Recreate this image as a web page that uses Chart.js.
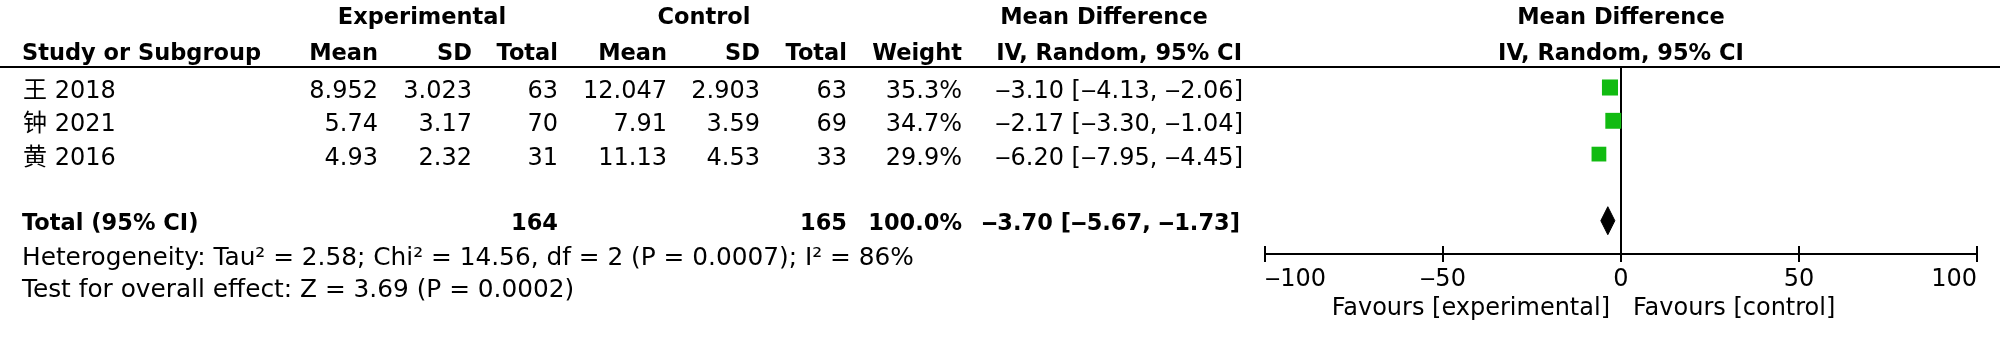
<!DOCTYPE html>
<html><head><meta charset="utf-8">
<script src="https://cdn.jsdelivr.net/npm/chart.js@4.4.0/dist/chart.umd.min.js"></script>
<style>html,body{margin:0;padding:0;background:#fff;}#wrap{width:2000px;height:339px;}</style>
</head><body><div id="wrap"><canvas id="c" width="2000" height="339"></canvas></div>
<script>
// ---- data ----
const studies = ['王 2018', '钟 2021', '黄 2016'];
const expMean = [8.952, 5.74, 4.93];
const expSD = [3.023, 3.17, 2.32];
const expN = [63, 70, 31];
const ctlMean = [12.047, 7.91, 11.13];
const ctlSD = [2.903, 3.59, 4.53];
const ctlN = [63, 69, 33];
const weights = [35.3, 34.7, 29.9];
const md = [-3.10, -2.17, -6.20];
const ciLo = [-4.13, -3.30, -7.95];
const ciHi = [-2.06, -1.04, -4.45];
const totalLabel = 'Total (95% CI)';
const totalExpN = 164;
const totalCtlN = 165;
const totalWeight = 100.0;
const totalMd = -3.70;
const totalLo = -5.67;
const totalHi = -1.73;
const hetTau2 = '2.58';
const hetChi2 = '14.56';
const hetDf = 2;
const hetP = '0.0007';
const hetI2 = 86;
const testZ = '3.69';
const testP = '0.0002';
const xTicks = [-100, -50, 0, 50, 100];
const favourLeft = 'Favours [experimental]';
const favourRight = 'Favours [control]';

// ---- layout / style ----
const FONT = "'DejaVu Sans','Noto Sans CJK SC',sans-serif";
const REG = '24px ' + FONT;
const FOOT = '24.8px ' + FONT;
const BOLD = 'bold 22.5px ' + FONT;
const GREEN = '#11bb11';
const dash = s => s.replace(/-/g, '\u2012');
const fmt2 = v => dash(v.toFixed(2));
const ciText = (m, l, h) => `${fmt2(m)} [${fmt2(l)}, ${fmt2(h)}]`;
const totalRow = 5;
const diamondHalf = 0.42;

const ciDatasets = studies.map((s, i) => ({
  type: 'line', label: 'ci' + i, order: 2,
  data: [{x: ciLo[i], y: i + 1}, {x: ciHi[i], y: i + 1}],
  borderColor: '#000', borderWidth: 1.5, pointRadius: 0, fill: false
}));

const tablePlugin = {
  id: 'table',
  afterDraw(chart) {
    const ctx = chart.ctx;
    const xs = chart.scales.x, ys = chart.scales.y;
    const zero = xs.getPixelForValue(0);
    const axisY = xs.top;
    ctx.save();
    // tick marks on axis
    ctx.strokeStyle = '#000'; ctx.lineWidth = 2;
    xs.ticks.forEach(t => {
      const px = Math.round(xs.getPixelForValue(t.value));
      ctx.beginPath(); ctx.moveTo(px, axisY - 8); ctx.lineTo(px, axisY + 8); ctx.stroke();
    });
    // header rule
    ctx.beginPath(); ctx.moveTo(0, 67); ctx.lineTo(2000, 67); ctx.stroke();

    ctx.fillStyle = '#000';
    ctx.textBaseline = 'alphabetic';
    const put = (t, x, y, align, font) => { ctx.font = font; ctx.textAlign = align; ctx.fillText(t, x, y); };
    // headers
    put('Experimental', 422, 24, 'center', BOLD);
    put('Control', 704, 24, 'center', BOLD);
    put('Mean Difference', 1104, 24, 'center', BOLD);
    put('Mean Difference', zero, 24, 'center', BOLD);
    put('Study or Subgroup', 22, 60, 'left', BOLD);
    const cols = [378, 472, 558, 667, 760, 847, 962];
    ['Mean', 'SD', 'Total', 'Mean', 'SD', 'Total', 'Weight'].forEach((h, k) => put(h, cols[k], 60, 'right', BOLD));
    put('IV, Random, 95% CI', 1242, 60, 'right', BOLD);
    put('IV, Random, 95% CI', zero, 60, 'center', BOLD);
    // rows
    studies.forEach((s, i) => {
      const y = ys.getPixelForValue(i + 1) + 10.5;
      put(s, 23, y, 'left', REG);
      const vals = [String(expMean[i]), String(expSD[i]), String(expN[i]), String(ctlMean[i]),
        String(ctlSD[i]), String(ctlN[i]), weights[i].toFixed(1) + '%'];
      vals.forEach((v, k) => put(v, cols[k], y, 'right', REG));
      put(ciText(md[i], ciLo[i], ciHi[i]), 1243, y, 'right', REG);
    });
    const ty = ys.getPixelForValue(totalRow) + 9;
    put(totalLabel, 22, ty, 'left', BOLD);
    put(String(totalExpN), cols[2], ty, 'right', BOLD);
    put(String(totalCtlN), cols[5], ty, 'right', BOLD);
    put(totalWeight.toFixed(1) + '%', cols[6], ty, 'right', BOLD);
    put(ciText(totalMd, totalLo, totalHi), 1240, ty, 'right', BOLD);
    put(`Heterogeneity: Tau\u00b2 = ${hetTau2}; Chi\u00b2 = ${hetChi2}, df = ${hetDf} (P = ${hetP}); I\u00b2 = ${hetI2}%`, 22, 265, 'left', FOOT);
    put(`Test for overall effect: Z = ${testZ} (P = ${testP})`, 22, 296.5, 'left', FOOT);
    put(favourLeft, zero - 11, 314.5, 'right', REG);
    put(favourRight, zero + 12, 314.5, 'left', REG);
    ctx.restore();
  }
};

new Chart(document.getElementById('c'), {
  type: 'scatter',
  data: {
    datasets: [
      {
        type: 'scatter', label: 'studies', order: 0,
        data: studies.map((s, i) => ({x: md[i], y: i + 1})),
        pointStyle: 'rect',
        pointRadius: weights.map(w => 2.7 * Math.sqrt(w) / Math.SQRT2),
        pointBackgroundColor: GREEN, pointBorderWidth: 0
      },
      {
        type: 'line', label: 'total', order: 1,
        data: [{x: totalLo, y: totalRow}, {x: totalMd, y: totalRow - diamondHalf},
               {x: totalHi, y: totalRow}, {x: totalMd, y: totalRow + diamondHalf},
               {x: totalLo, y: totalRow}],
        borderColor: '#000', borderWidth: 1, backgroundColor: '#000',
        fill: 'shape', pointRadius: 0, tension: 0
      },
      ...ciDatasets
    ]
  },
  options: {
    responsive: false, animation: false, devicePixelRatio: 1,
    layout: {padding: {left: 1265, right: 23, top: 67, bottom: 0}},
    plugins: {legend: {display: false}, tooltip: {enabled: false}},
    scales: {
      x: {
        type: 'linear', min: -100, max: 100,
        afterBuildTicks(s) { s.ticks = xTicks.map(v => ({value: v})); },
        afterFit(s) { s.height = 85; s.paddingLeft = 0; s.paddingRight = 0; },
        border: {display: true, color: '#000', width: 2},
        grid: {
          drawTicks: false, drawOnChartArea: true, lineWidth: 2,
          color: c => (c.tick && c.tick.value === 0) ? '#000' : 'rgba(0,0,0,0)'
        },
        ticks: {
          align: 'inner', padding: 11, color: '#000', font: {family: FONT, size: 24},
          maxRotation: 0, autoSkip: false,
          callback: v => dash(String(v))
        }
      },
      y: {type: 'linear', display: false, reverse: true, min: 0.3844, max: 6.0}
    }
  },
  plugins: [tablePlugin]
});
</script></body></html>
